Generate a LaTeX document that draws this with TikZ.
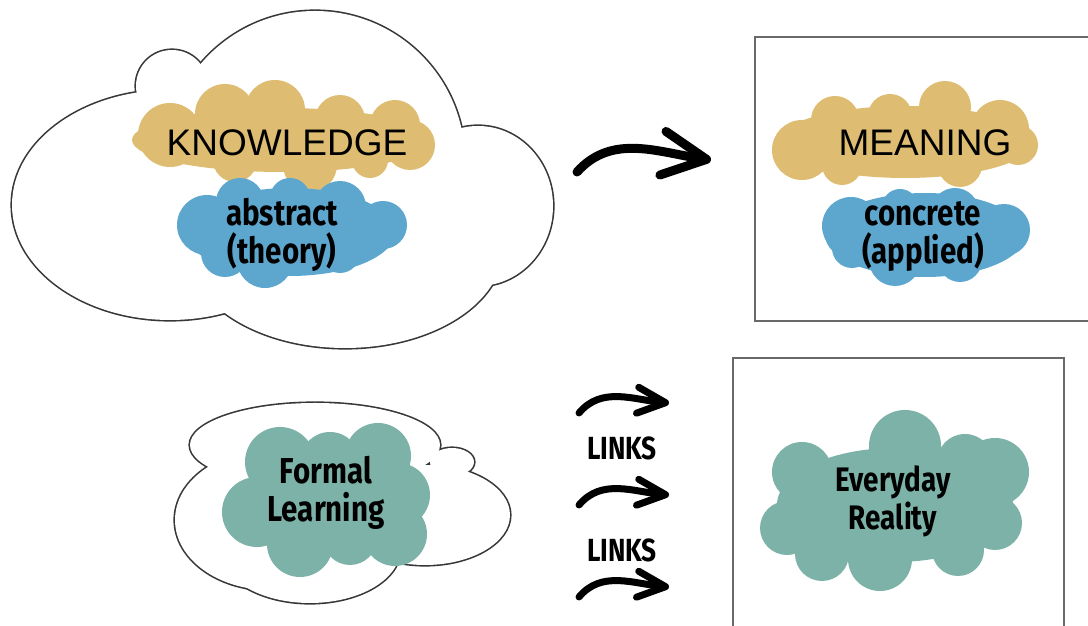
\documentclass[tikz,border=0pt]{standalone}
\usepackage{fontspec}
\setmainfont{Liberation Sans}
\newfontfamily\handfont[FakeStretch=0.82]{Fira Sans}
\usetikzlibrary{arrows.meta}

\definecolor{tanblob}{RGB}{222,189,114}
\definecolor{blueblob}{RGB}{93,167,207}
\definecolor{tealblob}{RGB}{124,178,168}
\definecolor{cloudgray}{RGB}{55,55,55}
\definecolor{boxgray}{RGB}{105,105,105}

\begin{document}
\begin{tikzpicture}[x=1pt, y=1pt,
    cloudline/.style={draw=cloudgray, line width=3.2pt},
    boxline/.style={draw=boxgray, line width=2pt},
    bigword/.style={font=\fontsize{37}{40}\selectfont},
    handword/.style={font=\handfont\bfseries\fontsize{36}{38}\selectfont, align=center},
    linkword/.style={font=\handfont\bfseries\fontsize{32}{34}\selectfont},
    bigarrow/.style={line width=9pt, line cap=round, -{Straight Barb[length=44pt,width=44pt,round]}},
    smallarrow/.style={line width=7pt, line cap=round, -{Straight Barb[length=28pt,width=26pt,round]}}]

    \useasboundingbox (0,0) rectangle (1088,626);

    % Big cloud (outline first, then white inside)
    \foreach \cx/\cy/\rx/\ry in {170/421/158/115, 172/540/36/36, 315/465/150/150,
        478/420/75/80, 345/378/158/100}
        \draw[cloudline] (\cx,\cy) ellipse [x radius=\rx pt, y radius=\ry pt];
    \foreach \cx/\cy/\rx/\ry in {170/421/158/115, 172/540/36/36, 315/465/150/150,
        478/420/75/80, 345/378/158/100}
        \fill[white] (\cx,\cy) ellipse [x radius=\rx pt, y radius=\ry pt];

    % Small cloud
    \foreach \cx/\cy/\rx/\ry in {315/181/125/42, 270/106/95/70, 310/76/90/53,
        425/111/85/50, 452/164/22/14}
        \draw[cloudline] (\cx,\cy) ellipse [x radius=\rx pt, y radius=\ry pt];
    \foreach \cx/\cy/\rx/\ry in {315/181/125/42, 270/106/95/70, 310/76/90/53,
        425/111/85/50, 452/164/22/14}
        \fill[white] (\cx,\cy) ellipse [x radius=\rx pt, y radius=\ry pt];

    % Boxes (right side runs off the page)
    \draw[boxline] (1092,305) -- (755,305) -- (755,589) -- (1092,589);
    \draw[boxline] (733,-5) -- (733,268) -- (1064,268) -- (1064,-5);

    % Blobs behind the words
    \fill[tanblob] (282,486) ellipse [x radius=150pt, y radius=32pt];
    \foreach \cx/\cy/\r in {170/491/32, 225/512/30, 275/516/30, 340/506/25,
        395/501/25, 410/481/25, 310/461/27, 235/466/22, 370/466/18}
        \fill[tanblob] (\cx,\cy) circle [radius=\r pt];

    \fill[blueblob] (290,394) ellipse [x radius=105pt, y radius=44pt];
    \foreach \cx/\cy/\r in {207/401/30, 240/424/24, 290/428/20, 340/419/26,
        383/401/24, 265/366/28, 225/373/24, 340/373/20}
        \fill[blueblob] (\cx,\cy) circle [radius=\r pt];

    \fill[tanblob] (905,484) ellipse [x radius=128pt, y radius=36pt];
    \foreach \cx/\cy/\r in {802/476/30, 835/506/24, 890/510/22, 945/519/26,
        1000/497/29, 1018/481/20, 842/461/20, 960/461/22}
        \fill[tanblob] (\cx,\cy) circle [radius=\r pt];

    \fill[blueblob] (925,391) ellipse [x radius=100pt, y radius=42pt];
    \foreach \cx/\cy/\r in {851/400/29, 900/419/18, 955/414/24, 1004/396/26,
        895/366/26, 960/366/22, 852/378/20}
        \fill[blueblob] (\cx,\cy) circle [radius=\r pt];

    \foreach \cx/\cy/\r in {280/164/35, 330/164/30, 378/170/33, 398/131/32,
        395/92/32, 257/114/35, 300/82/33, 330/122/45, 350/88/27}
        \fill[tealblob] (\cx,\cy) circle [radius=\r pt];

    \fill[tealblob] (895,121) ellipse [x radius=118pt, y radius=57pt];
    \foreach \cx/\cy/\r in {802/154/30, 905/180/36, 965/164/28, 995/154/34,
        787/98/27, 822/72/27, 880/67/32, 958/76/26, 995/103/27}
        \fill[tealblob] (\cx,\cy) circle [radius=\r pt];

    % Words
    \node[bigword] (knowledge) at (287,483) {KNOWLEDGE};
    \node[handword] (abstract) at (282,391) {abstract\\(theory)};
    \node[bigword] (meaning) at (925,483) {MEANING};
    \node[handword] (concrete) at (923,389) {concrete\\(applied)};
    \node[handword] (formal) at (326,133) {Formal\\Learning};
    \node[handword, font=\handfont\bfseries\fontsize{34}{38}\selectfont] (everyday) at (893,125) {Everyday\\Reality};
    \node[linkword] (links1) at (622,178) {LINKS};
    \node[linkword] (links2) at (622,76) {LINKS};

    % Arrows
    \coordinate (kstart) at (577,454);
    \coordinate (kend) at (711,466);
    \draw[bigarrow] (kstart) to[out=48, in=172] (kend);

    \foreach \ys/\ye [count=\i] in {213/223, 121/131, 29/39} {
        \coordinate (ls\i) at (579,\ys);
        \coordinate (le\i) at (669,\ye);
        \draw[smallarrow] (ls\i) to[out=50, in=175] (le\i);
    }

\end{tikzpicture}
\end{document}
